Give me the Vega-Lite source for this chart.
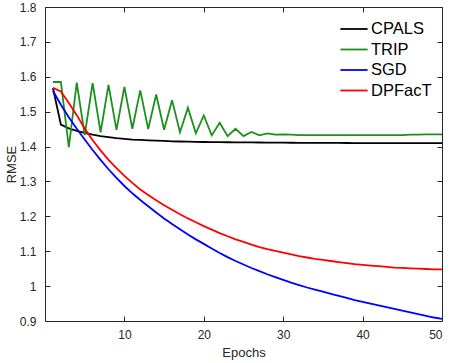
{
  "$schema": "https://vega.github.io/schema/vega-lite/v6.json",
  "width": 397,
  "height": 314,
  "autosize": {"type": "none"},
  "padding": {"left": 45, "top": 7, "right": 8, "bottom": 42},
  "background": "white",
  "config": {
    "font": "Liberation Sans",
    "view": {"stroke": null},
    "axis": {
      "domainColor": "#262626",
      "domainWidth": 1,
      "tickColor": "#262626",
      "tickSize": -5,
      "labelColor": "#262626",
      "labelFont": "Liberation Sans",
      "labelFontSize": 12,
      "titleFont": "Liberation Sans",
      "titleFontSize": 13,
      "titleFontWeight": "normal",
      "titleColor": "#262626",
      "grid": false
    }
  },
  "data": {"values": [
    {"epoch": 1, "method": "CPALS", "rmse": 1.568}, {"epoch": 2, "method": "CPALS", "rmse": 1.463}, {"epoch": 3, "method": "CPALS", "rmse": 1.452}, {"epoch": 4, "method": "CPALS", "rmse": 1.445}, {"epoch": 5, "method": "CPALS", "rmse": 1.439},
    {"epoch": 6, "method": "CPALS", "rmse": 1.434}, {"epoch": 7, "method": "CPALS", "rmse": 1.430}, {"epoch": 8, "method": "CPALS", "rmse": 1.427}, {"epoch": 9, "method": "CPALS", "rmse": 1.424}, {"epoch": 10, "method": "CPALS", "rmse": 1.422},
    {"epoch": 11, "method": "CPALS", "rmse": 1.420}, {"epoch": 12, "method": "CPALS", "rmse": 1.419}, {"epoch": 13, "method": "CPALS", "rmse": 1.418}, {"epoch": 14, "method": "CPALS", "rmse": 1.417}, {"epoch": 15, "method": "CPALS", "rmse": 1.416},
    {"epoch": 16, "method": "CPALS", "rmse": 1.415}, {"epoch": 17, "method": "CPALS", "rmse": 1.4145}, {"epoch": 18, "method": "CPALS", "rmse": 1.414}, {"epoch": 19, "method": "CPALS", "rmse": 1.4135}, {"epoch": 20, "method": "CPALS", "rmse": 1.413},
    {"epoch": 21, "method": "CPALS", "rmse": 1.4128}, {"epoch": 22, "method": "CPALS", "rmse": 1.4126}, {"epoch": 23, "method": "CPALS", "rmse": 1.4124}, {"epoch": 24, "method": "CPALS", "rmse": 1.4122}, {"epoch": 25, "method": "CPALS", "rmse": 1.412},
    {"epoch": 26, "method": "CPALS", "rmse": 1.4118}, {"epoch": 27, "method": "CPALS", "rmse": 1.4116}, {"epoch": 28, "method": "CPALS", "rmse": 1.4114}, {"epoch": 29, "method": "CPALS", "rmse": 1.4112}, {"epoch": 30, "method": "CPALS", "rmse": 1.411},
    {"epoch": 31, "method": "CPALS", "rmse": 1.4109}, {"epoch": 32, "method": "CPALS", "rmse": 1.4108}, {"epoch": 33, "method": "CPALS", "rmse": 1.4107}, {"epoch": 34, "method": "CPALS", "rmse": 1.4106}, {"epoch": 35, "method": "CPALS", "rmse": 1.4105},
    {"epoch": 36, "method": "CPALS", "rmse": 1.4104}, {"epoch": 37, "method": "CPALS", "rmse": 1.4103}, {"epoch": 38, "method": "CPALS", "rmse": 1.4102}, {"epoch": 39, "method": "CPALS", "rmse": 1.4101}, {"epoch": 40, "method": "CPALS", "rmse": 1.41},
    {"epoch": 41, "method": "CPALS", "rmse": 1.41}, {"epoch": 42, "method": "CPALS", "rmse": 1.41}, {"epoch": 43, "method": "CPALS", "rmse": 1.41}, {"epoch": 44, "method": "CPALS", "rmse": 1.41}, {"epoch": 45, "method": "CPALS", "rmse": 1.41},
    {"epoch": 46, "method": "CPALS", "rmse": 1.41}, {"epoch": 47, "method": "CPALS", "rmse": 1.41}, {"epoch": 48, "method": "CPALS", "rmse": 1.41}, {"epoch": 49, "method": "CPALS", "rmse": 1.41}, {"epoch": 50, "method": "CPALS", "rmse": 1.41},
    {"epoch": 1, "method": "TRIP", "rmse": 1.585}, {"epoch": 2, "method": "TRIP", "rmse": 1.585}, {"epoch": 3, "method": "TRIP", "rmse": 1.398}, {"epoch": 4, "method": "TRIP", "rmse": 1.583}, {"epoch": 5, "method": "TRIP", "rmse": 1.433},
    {"epoch": 6, "method": "TRIP", "rmse": 1.582}, {"epoch": 7, "method": "TRIP", "rmse": 1.441}, {"epoch": 8, "method": "TRIP", "rmse": 1.577}, {"epoch": 9, "method": "TRIP", "rmse": 1.448}, {"epoch": 10, "method": "TRIP", "rmse": 1.571},
    {"epoch": 11, "method": "TRIP", "rmse": 1.451}, {"epoch": 12, "method": "TRIP", "rmse": 1.561}, {"epoch": 13, "method": "TRIP", "rmse": 1.450}, {"epoch": 14, "method": "TRIP", "rmse": 1.549}, {"epoch": 15, "method": "TRIP", "rmse": 1.448},
    {"epoch": 16, "method": "TRIP", "rmse": 1.533}, {"epoch": 17, "method": "TRIP", "rmse": 1.441}, {"epoch": 18, "method": "TRIP", "rmse": 1.511}, {"epoch": 19, "method": "TRIP", "rmse": 1.438}, {"epoch": 20, "method": "TRIP", "rmse": 1.489},
    {"epoch": 21, "method": "TRIP", "rmse": 1.432}, {"epoch": 22, "method": "TRIP", "rmse": 1.468}, {"epoch": 23, "method": "TRIP", "rmse": 1.430}, {"epoch": 24, "method": "TRIP", "rmse": 1.451}, {"epoch": 25, "method": "TRIP", "rmse": 1.430},
    {"epoch": 26, "method": "TRIP", "rmse": 1.442}, {"epoch": 27, "method": "TRIP", "rmse": 1.432}, {"epoch": 28, "method": "TRIP", "rmse": 1.438}, {"epoch": 29, "method": "TRIP", "rmse": 1.434}, {"epoch": 30, "method": "TRIP", "rmse": 1.435},
    {"epoch": 31, "method": "TRIP", "rmse": 1.434}, {"epoch": 32, "method": "TRIP", "rmse": 1.433}, {"epoch": 33, "method": "TRIP", "rmse": 1.433}, {"epoch": 34, "method": "TRIP", "rmse": 1.433}, {"epoch": 35, "method": "TRIP", "rmse": 1.433},
    {"epoch": 36, "method": "TRIP", "rmse": 1.433}, {"epoch": 37, "method": "TRIP", "rmse": 1.433}, {"epoch": 38, "method": "TRIP", "rmse": 1.433}, {"epoch": 39, "method": "TRIP", "rmse": 1.433}, {"epoch": 40, "method": "TRIP", "rmse": 1.433},
    {"epoch": 41, "method": "TRIP", "rmse": 1.433}, {"epoch": 42, "method": "TRIP", "rmse": 1.433}, {"epoch": 43, "method": "TRIP", "rmse": 1.433}, {"epoch": 44, "method": "TRIP", "rmse": 1.433}, {"epoch": 45, "method": "TRIP", "rmse": 1.433},
    {"epoch": 46, "method": "TRIP", "rmse": 1.434}, {"epoch": 47, "method": "TRIP", "rmse": 1.434}, {"epoch": 48, "method": "TRIP", "rmse": 1.435}, {"epoch": 49, "method": "TRIP", "rmse": 1.435}, {"epoch": 50, "method": "TRIP", "rmse": 1.435},
    {"epoch": 1, "method": "SGD", "rmse": 1.560}, {"epoch": 2, "method": "SGD", "rmse": 1.520}, {"epoch": 3, "method": "SGD", "rmse": 1.484}, {"epoch": 4, "method": "SGD", "rmse": 1.451}, {"epoch": 5, "method": "SGD", "rmse": 1.420},
    {"epoch": 6, "method": "SGD", "rmse": 1.390}, {"epoch": 7, "method": "SGD", "rmse": 1.362}, {"epoch": 8, "method": "SGD", "rmse": 1.335}, {"epoch": 9, "method": "SGD", "rmse": 1.310}, {"epoch": 10, "method": "SGD", "rmse": 1.287},
    {"epoch": 11, "method": "SGD", "rmse": 1.266}, {"epoch": 12, "method": "SGD", "rmse": 1.247}, {"epoch": 13, "method": "SGD", "rmse": 1.229}, {"epoch": 14, "method": "SGD", "rmse": 1.211}, {"epoch": 15, "method": "SGD", "rmse": 1.194},
    {"epoch": 16, "method": "SGD", "rmse": 1.178}, {"epoch": 17, "method": "SGD", "rmse": 1.163}, {"epoch": 18, "method": "SGD", "rmse": 1.148}, {"epoch": 19, "method": "SGD", "rmse": 1.134}, {"epoch": 20, "method": "SGD", "rmse": 1.121},
    {"epoch": 21, "method": "SGD", "rmse": 1.108}, {"epoch": 22, "method": "SGD", "rmse": 1.095}, {"epoch": 23, "method": "SGD", "rmse": 1.083}, {"epoch": 24, "method": "SGD", "rmse": 1.072}, {"epoch": 25, "method": "SGD", "rmse": 1.062},
    {"epoch": 26, "method": "SGD", "rmse": 1.052}, {"epoch": 27, "method": "SGD", "rmse": 1.043}, {"epoch": 28, "method": "SGD", "rmse": 1.034}, {"epoch": 29, "method": "SGD", "rmse": 1.026}, {"epoch": 30, "method": "SGD", "rmse": 1.018},
    {"epoch": 31, "method": "SGD", "rmse": 1.010}, {"epoch": 32, "method": "SGD", "rmse": 1.003}, {"epoch": 33, "method": "SGD", "rmse": 0.996}, {"epoch": 34, "method": "SGD", "rmse": 0.990}, {"epoch": 35, "method": "SGD", "rmse": 0.984},
    {"epoch": 36, "method": "SGD", "rmse": 0.978}, {"epoch": 37, "method": "SGD", "rmse": 0.972}, {"epoch": 38, "method": "SGD", "rmse": 0.966}, {"epoch": 39, "method": "SGD", "rmse": 0.960}, {"epoch": 40, "method": "SGD", "rmse": 0.955},
    {"epoch": 41, "method": "SGD", "rmse": 0.950}, {"epoch": 42, "method": "SGD", "rmse": 0.945}, {"epoch": 43, "method": "SGD", "rmse": 0.940}, {"epoch": 44, "method": "SGD", "rmse": 0.935}, {"epoch": 45, "method": "SGD", "rmse": 0.930},
    {"epoch": 46, "method": "SGD", "rmse": 0.925}, {"epoch": 47, "method": "SGD", "rmse": 0.920}, {"epoch": 48, "method": "SGD", "rmse": 0.915}, {"epoch": 49, "method": "SGD", "rmse": 0.910}, {"epoch": 50, "method": "SGD", "rmse": 0.906},
    {"epoch": 1, "method": "DPFacT", "rmse": 1.568}, {"epoch": 2, "method": "DPFacT", "rmse": 1.558}, {"epoch": 3, "method": "DPFacT", "rmse": 1.525}, {"epoch": 4, "method": "DPFacT", "rmse": 1.490}, {"epoch": 5, "method": "DPFacT", "rmse": 1.452},
    {"epoch": 6, "method": "DPFacT", "rmse": 1.418}, {"epoch": 7, "method": "DPFacT", "rmse": 1.389}, {"epoch": 8, "method": "DPFacT", "rmse": 1.362}, {"epoch": 9, "method": "DPFacT", "rmse": 1.338}, {"epoch": 10, "method": "DPFacT", "rmse": 1.316},
    {"epoch": 11, "method": "DPFacT", "rmse": 1.296}, {"epoch": 12, "method": "DPFacT", "rmse": 1.277}, {"epoch": 13, "method": "DPFacT", "rmse": 1.261}, {"epoch": 14, "method": "DPFacT", "rmse": 1.246}, {"epoch": 15, "method": "DPFacT", "rmse": 1.232},
    {"epoch": 16, "method": "DPFacT", "rmse": 1.219}, {"epoch": 17, "method": "DPFacT", "rmse": 1.206}, {"epoch": 18, "method": "DPFacT", "rmse": 1.194}, {"epoch": 19, "method": "DPFacT", "rmse": 1.183}, {"epoch": 20, "method": "DPFacT", "rmse": 1.172},
    {"epoch": 21, "method": "DPFacT", "rmse": 1.162}, {"epoch": 22, "method": "DPFacT", "rmse": 1.152}, {"epoch": 23, "method": "DPFacT", "rmse": 1.143}, {"epoch": 24, "method": "DPFacT", "rmse": 1.134}, {"epoch": 25, "method": "DPFacT", "rmse": 1.127},
    {"epoch": 26, "method": "DPFacT", "rmse": 1.119}, {"epoch": 27, "method": "DPFacT", "rmse": 1.112}, {"epoch": 28, "method": "DPFacT", "rmse": 1.106}, {"epoch": 29, "method": "DPFacT", "rmse": 1.101}, {"epoch": 30, "method": "DPFacT", "rmse": 1.096},
    {"epoch": 31, "method": "DPFacT", "rmse": 1.091}, {"epoch": 32, "method": "DPFacT", "rmse": 1.086}, {"epoch": 33, "method": "DPFacT", "rmse": 1.082}, {"epoch": 34, "method": "DPFacT", "rmse": 1.078}, {"epoch": 35, "method": "DPFacT", "rmse": 1.075},
    {"epoch": 36, "method": "DPFacT", "rmse": 1.072}, {"epoch": 37, "method": "DPFacT", "rmse": 1.069}, {"epoch": 38, "method": "DPFacT", "rmse": 1.066}, {"epoch": 39, "method": "DPFacT", "rmse": 1.063}, {"epoch": 40, "method": "DPFacT", "rmse": 1.061},
    {"epoch": 41, "method": "DPFacT", "rmse": 1.059}, {"epoch": 42, "method": "DPFacT", "rmse": 1.057}, {"epoch": 43, "method": "DPFacT", "rmse": 1.055}, {"epoch": 44, "method": "DPFacT", "rmse": 1.053}, {"epoch": 45, "method": "DPFacT", "rmse": 1.052},
    {"epoch": 46, "method": "DPFacT", "rmse": 1.051}, {"epoch": 47, "method": "DPFacT", "rmse": 1.050}, {"epoch": 48, "method": "DPFacT", "rmse": 1.049}, {"epoch": 49, "method": "DPFacT", "rmse": 1.048}, {"epoch": 50, "method": "DPFacT", "rmse": 1.048}
  ]},
  "layer": [
    {
      "mark": {"type": "line", "strokeWidth": 1.8, "clip": true},
      "encoding": {
        "x": {"field": "epoch", "type": "quantitative",
              "scale": {"domain": [0, 50], "nice": false, "zero": false},
              "axis": {"orient": "bottom", "values": [10, 20, 30, 40, 50], "title": "Epochs", "labelPadding": 13, "titlePadding": 6}},
        "y": {"field": "rmse", "type": "quantitative",
              "scale": {"domain": [0.9, 1.8], "nice": false, "zero": false},
              "axis": {"orient": "left", "values": [0.9, 1.0, 1.1, 1.2, 1.3, 1.4, 1.5, 1.6, 1.7, 1.8], "format": "~g", "title": "RMSE", "labelPadding": 14, "titlePadding": 1}},
        "color": {"field": "method", "type": "nominal",
                  "scale": {"domain": ["CPALS", "TRIP", "SGD", "DPFacT"], "range": ["#000000", "#1b901b", "#0000ff", "#ff0000"]},
                  "legend": {"title": null, "orient": "none", "legendX": 300, "legendY": 13,
                             "symbolType": "M-1.7,0H1.7", "symbolSize": 256, "symbolStrokeWidth": 1.8,
                             "labelFontSize": 16.5, "labelFont": "Liberation Sans", "labelColor": "#000000",
                             "labelOffset": 8, "rowPadding": 2.5}},
        "order": {"value": 0}
      }
    },
    {
      "mark": {"type": "point", "opacity": 0},
      "encoding": {
        "x": {"field": "epoch", "type": "quantitative",
              "axis": {"orient": "top", "values": [10, 20, 30, 40, 50], "labels": false, "title": null}},
        "y": {"field": "rmse", "type": "quantitative",
              "axis": {"orient": "right", "values": [0.9, 1.0, 1.1, 1.2, 1.3, 1.4, 1.5, 1.6, 1.7, 1.8], "labels": false, "title": null}}
      }
    }
  ],
  "resolve": {"axis": {"x": "independent", "y": "independent"}}
}
